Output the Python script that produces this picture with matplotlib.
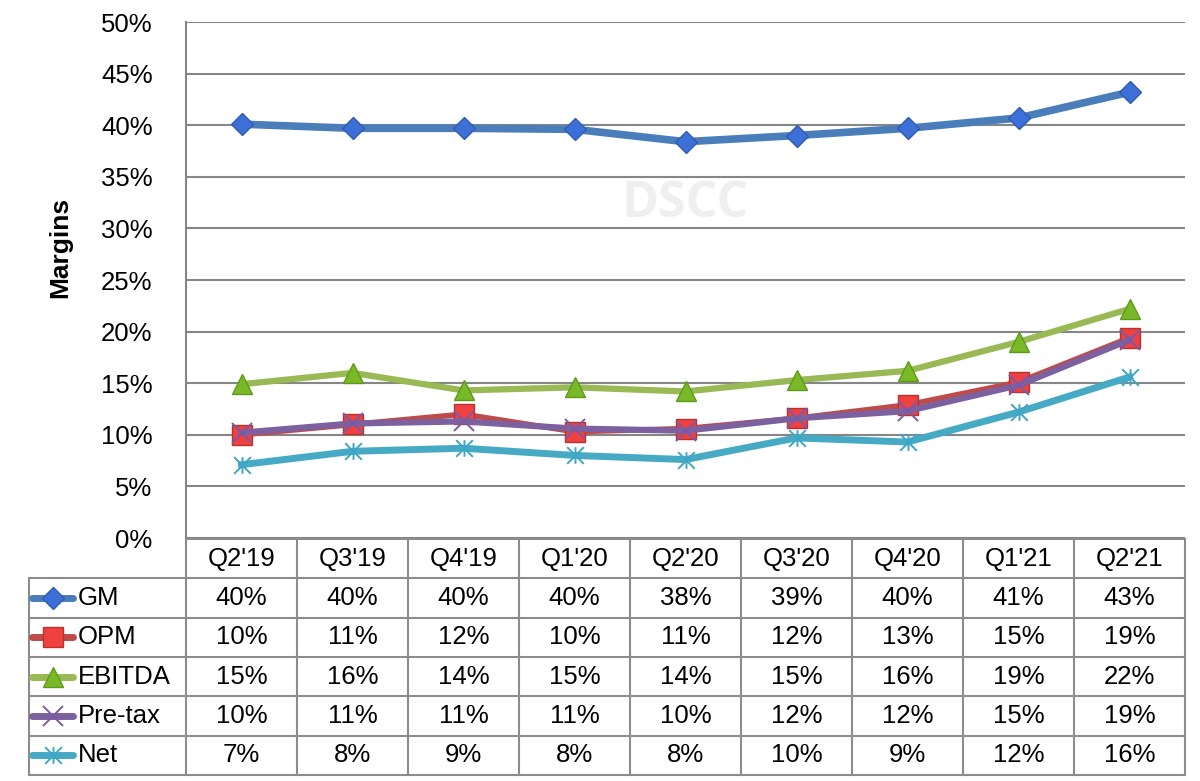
import numpy as np
import matplotlib
matplotlib.use("Agg")
import matplotlib.pyplot as plt
from matplotlib.path import Path

plt.rcParams['font.family'] = ['Liberation Sans', 'DejaVu Sans']

# data (margins, %)
quarters = ["Q2'19", "Q3'19", "Q4'19", "Q1'20", "Q2'20", "Q3'20", "Q4'20", "Q1'21", "Q2'21"]
gm = [40.1, 39.7, 39.7, 39.6, 38.4, 39.0, 39.7, 40.7, 43.2]
opm = [10.0, 11.0, 12.0, 10.3, 10.6, 11.6, 12.9, 15.1, 19.4]
ebitda = [14.9, 16.0, 14.3, 14.6, 14.2, 15.3, 16.2, 19.0, 22.2]
pretax = [10.2, 11.1, 11.3, 10.6, 10.4, 11.6, 12.3, 14.8, 19.2]
net = [7.1, 8.4, 8.7, 8.0, 7.6, 9.7, 9.3, 12.2, 15.6]
series_names = ["GM", "OPM", "EBITDA", "Pre-tax", "Net"]
y_ticks = [0, 5, 10, 15, 20, 25, 30, 35, 40, 45, 50]
y_labels = ["0%", "5%", "10%", "15%", "20%", "25%", "30%", "35%", "40%", "45%", "50%"]

# excel style star marker: vertical bar plus an X
star = Path([(0, -1), (0, 1), (-1, -1), (1, 1), (-1, 1), (1, -1)],
            [Path.MOVETO, Path.LINETO, Path.MOVETO, Path.LINETO, Path.MOVETO, Path.LINETO])

styles = [
    dict(color='#4a7ebb', lw=5.5, marker='D', ms=11, mfc='#3d6fd8', mec='#2f5cae', mew=1),
    dict(color='#be4b48', lw=4.0, marker='s', ms=14, mfc='#ef4140', mec='#b83230', mew=1),
    dict(color='#98b954', lw=4.5, marker='^', ms=15, mfc='#79b928', mec='#5e9a1a', mew=1),
    dict(color='#7d60a0', lw=4.5, marker='x', ms=14, mfc='none', mec='#7a5aa6', mew=1.4),
    dict(color='#46aac5', lw=5.0, marker=star, ms=12, mfc='none', mec='#3ea6c6', mew=1.4),
]
all_vals = [gm, opm, ebitda, pretax, net]
fs = 18.5

fig = plt.figure(figsize=(12, 7.81), dpi=100)
W, H = 1200, 781

ax = fig.add_axes([186 / W, 1 - 538 / H, 999 / W, 516 / H])
x = np.arange(len(quarters))
for vals, st in zip(all_vals, styles):
    ax.plot(x, vals, color=st['color'], lw=st['lw'], marker=st['marker'], ms=st['ms'],
            mfc=st['mfc'], mec=st['mec'], mew=st['mew'], solid_joinstyle='round', zorder=3)

ax.set_xlim(-0.5, len(quarters) - 0.5)
ax.set_ylim(0, 50)
ax.set_yticks(y_ticks)
ax.set_yticklabels(y_labels, fontsize=fs)
ax.tick_params(axis='y', length=0, pad=24)
ax.set_xticks([])
ax.grid(axis='y', color='#868686', lw=1.5)
ax.set_axisbelow(True)
for s in ['top', 'right', 'bottom']:
    ax.spines[s].set_visible(False)
ax.spines['left'].set_color('#868686')
ax.spines['left'].set_linewidth(1.5)
ax.set_ylabel("Margins", fontsize=19, fontweight='bold')
ax.yaxis.set_label_coords(-0.114, 0.564)

# watermark
fig.text(685 / W, 1 - 204 / H, "DSCC", fontsize=36, fontweight='bold', family='Open Sans',
         color='#efefef', ha='center', va='center', zorder=0)

# data table under the plot
tax = fig.add_axes([29 / W, 1 - 775 / H, (1185 - 29) / W, (775 - 539) / H])
xl = -0.5 - 157 / 111
n = len(quarters)
tax.set_xlim(xl, n - 0.5)
tax.set_ylim(6, 0)
tax.axis('off')
bc = '#8c8c8c'
for k in range(n + 1):
    tax.plot([-0.5 + k, -0.5 + k], [0, 6], color=bc, lw=1.5, clip_on=False)
tax.plot([-0.5, n - 0.5], [0, 0], color=bc, lw=1.5, clip_on=False)
for r in range(1, 7):
    tax.plot([xl, n - 0.5], [r, r], color=bc, lw=1.5, clip_on=False)
tax.plot([xl, xl], [1, 6], color=bc, lw=1.5, clip_on=False)

for i, q in enumerate(quarters):
    tax.text(i, 0.5, q, ha='center', va='center', fontsize=fs)

for r, (name, vals, st) in enumerate(zip(series_names, all_vals, styles)):
    yy = r + 1.5
    tax.plot([xl + 0.03, xl + 0.40], [yy, yy], color=st['color'], lw=5, solid_capstyle='round',
             clip_on=False)
    tax.plot([xl + 0.215], [yy], marker=st['marker'], ms=st['ms'], mfc=st['mfc'], mec=st['mec'],
             mew=st['mew'], clip_on=False)
    tax.text(xl + 0.44, yy, name, ha='left', va='center', fontsize=fs)
    for i, v in enumerate(vals):
        tax.text(i, yy, f"{round(v):.0f}%", ha='center', va='center', fontsize=fs)

fig.savefig("out.png", dpi=100)
